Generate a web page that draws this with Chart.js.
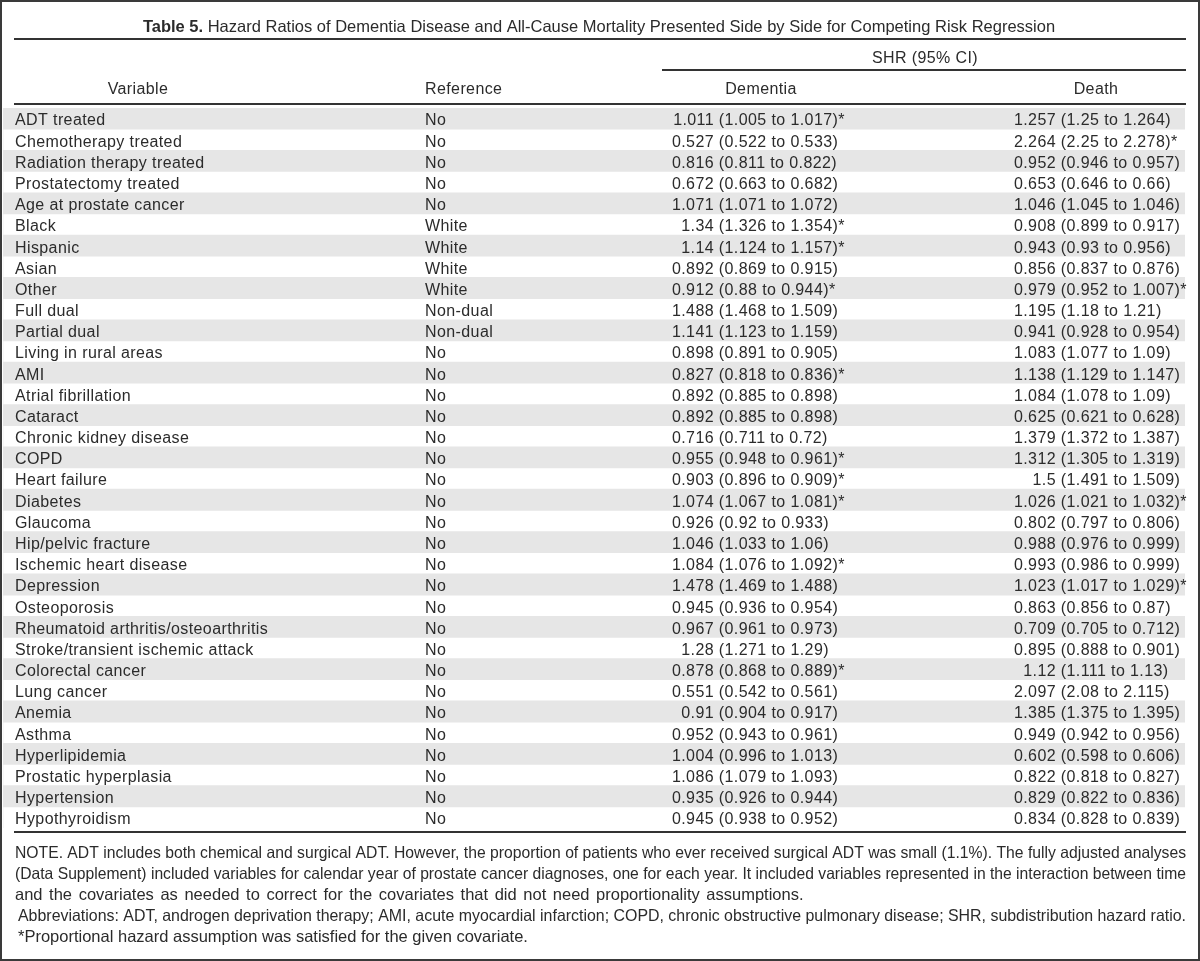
<!DOCTYPE html>
<html>
<head>
<meta charset="utf-8">
<script src="https://cdn.jsdelivr.net/npm/chart.js@4"></script>
<style>
  body { margin: 0; background: #fff; }
  canvas { display: block; }
</style>
</head>
<body>
<canvas id="tableChart" width="1200" height="961"></canvas>
<script>
const variables = ['ADT treated', 'Chemotherapy treated', 'Radiation therapy treated', 'Prostatectomy treated',
    'Age at prostate cancer', 'Black', 'Hispanic', 'Asian', 'Other', 'Full dual', 'Partial dual',
    'Living in rural areas', 'AMI', 'Atrial fibrillation', 'Cataract', 'Chronic kidney disease', 'COPD',
    'Heart failure', 'Diabetes', 'Glaucoma', 'Hip/pelvic fracture', 'Ischemic heart disease', 'Depression',
    'Osteoporosis', 'Rheumatoid arthritis/osteoarthritis', 'Stroke/transient ischemic attack',
    'Colorectal cancer', 'Lung cancer', 'Anemia', 'Asthma', 'Hyperlipidemia', 'Prostatic hyperplasia',
    'Hypertension', 'Hypothyroidism'];

const references = ['No', 'No', 'No', 'No', 'No', 'White', 'White', 'White', 'White', 'Non-dual', 'Non-dual',
    'No', 'No', 'No', 'No', 'No', 'No', 'No', 'No', 'No', 'No', 'No', 'No', 'No', 'No', 'No', 'No', 'No',
    'No', 'No', 'No', 'No', 'No', 'No'];

const dementiaShr = [1.011, 0.527, 0.816, 0.672, 1.071, 1.34, 1.14, 0.892, 0.912, 1.488, 1.141, 0.898, 0.827,
    0.892, 0.892, 0.716, 0.955, 0.903, 1.074, 0.926, 1.046, 1.084, 1.478, 0.945, 0.967, 1.28, 0.878, 0.551,
    0.91, 0.952, 1.004, 1.086, 0.935, 0.945];
const dementiaLow = [1.005, 0.522, 0.811, 0.663, 1.071, 1.326, 1.124, 0.869, 0.88, 1.468, 1.123, 0.891, 0.818,
    0.885, 0.885, 0.711, 0.948, 0.896, 1.067, 0.92, 1.033, 1.076, 1.469, 0.936, 0.961, 1.271, 0.868, 0.542,
    0.904, 0.943, 0.996, 1.079, 0.926, 0.938];
const dementiaHigh = [1.017, 0.533, 0.822, 0.682, 1.072, 1.354, 1.157, 0.915, 0.944, 1.509, 1.159, 0.905, 0.836,
    0.898, 0.898, 0.72, 0.961, 0.909, 1.081, 0.933, 1.06, 1.092, 1.488, 0.954, 0.973, 1.29, 0.889, 0.561,
    0.917, 0.961, 1.013, 1.093, 0.944, 0.952];
// 1 = proportional hazard assumption satisfied (asterisk)
const dementiaPH = [1, 0, 0, 0, 0, 1, 1, 0, 1, 0, 0, 0, 1, 0, 0, 0, 1, 1, 1, 0, 0, 1, 0, 0, 0, 0, 1, 0,
    0, 0, 0, 0, 0, 0];

const deathShr = [1.257, 2.264, 0.952, 0.653, 1.046, 0.908, 0.943, 0.856, 0.979, 1.195, 0.941, 1.083, 1.138,
    1.084, 0.625, 1.379, 1.312, 1.5, 1.026, 0.802, 0.988, 0.993, 1.023, 0.863, 0.709, 0.895, 1.12, 2.097,
    1.385, 0.949, 0.602, 0.822, 0.829, 0.834];
const deathLow = [1.25, 2.25, 0.946, 0.646, 1.045, 0.899, 0.93, 0.837, 0.952, 1.18, 0.928, 1.077, 1.129,
    1.078, 0.621, 1.372, 1.305, 1.491, 1.021, 0.797, 0.976, 0.986, 1.017, 0.856, 0.705, 0.888, 1.111, 2.08,
    1.375, 0.942, 0.598, 0.818, 0.822, 0.828];
const deathHigh = [1.264, 2.278, 0.957, 0.66, 1.046, 0.917, 0.956, 0.876, 1.007, 1.21, 0.954, 1.09, 1.147,
    1.09, 0.628, 1.387, 1.319, 1.509, 1.032, 0.806, 0.999, 0.999, 1.029, 0.87, 0.712, 0.901, 1.13, 2.115,
    1.395, 0.956, 0.606, 0.827, 0.836, 0.839];
const deathPH = [0, 1, 0, 0, 0, 0, 0, 0, 1, 0, 0, 0, 0, 0, 0, 0, 0, 0, 1, 0, 0, 0, 1, 0, 0, 0, 0, 0,
    0, 0, 0, 0, 0, 0];

const columnHeaders = ['Variable', 'Reference', 'Dementia', 'Death'];
const spanHeader = 'SHR (95% CI)';
const titleLabel = 'Table 5.';
const titleText = 'Hazard Ratios of Dementia Disease and All-Cause Mortality Presented Side by Side for Competing Risk Regression';
const notes = [
    'NOTE. ADT includes both chemical and surgical ADT. However, the proportion of patients who ever received surgical ADT was small (1.1%). The fully adjusted analyses',
    '(Data Supplement) included variables for calendar year of prostate cancer diagnoses, one for each year. It included variables represented in the interaction between time',
    'and the covariates as needed to correct for the covariates that did not need proportionality assumptions.',
    'Abbreviations: ADT, androgen deprivation therapy; AMI, acute myocardial infarction; COPD, chronic obstructive pulmonary disease; SHR, subdistribution hazard ratio.',
    '*Proportional hazard assumption was satisfied for the given covariate.'
];

const FONT = "'Liberation Sans', Arial, sans-serif";
const INK = '#2b2b2b';

// fit a line between x0 and x1: squeeze it if too long, spread the words if too short
function drawJustified(ctx, text, x0, x1, y) {
    const avail = x1 - x0;
    const natural = ctx.measureText(text).width;
    if (natural >= avail) {
        ctx.save();
        ctx.translate(x0, y);
        ctx.scale(avail / natural, 1);
        ctx.fillText(text, 0, 0);
        ctx.restore();
        return;
    }
    const words = text.split(' ');
    const widths = words.map(w => ctx.measureText(w).width);
    const total = widths.reduce((a, b) => a + b, 0);
    const gap = (avail - total) / (words.length - 1);
    let x = x0;
    words.forEach((w, i) => {
        ctx.fillText(w, x, y);
        x += widths[i] + gap;
    });
}

function rule(ctx, x0, x1, y, w) {
    ctx.fillStyle = '#333';
    ctx.fillRect(x0, y - w / 2, x1 - x0, w);
}

const tablePlugin = {
    id: 'tableText',
    beforeDraw(chart) {
        const ctx = chart.ctx;
        ctx.save();
        ctx.fillStyle = '#fff';
        ctx.fillRect(0, 0, chart.width, chart.height);
        ctx.restore();
    },
    afterDatasetsDraw(chart) {
        const ctx = chart.ctx;
        const yScale = chart.scales.y;
        ctx.save();
        ctx.fillStyle = INK;
        ctx.textBaseline = 'middle';

        // title
        ctx.font = 'bold 16.5px ' + FONT;
        const wLabel = ctx.measureText(titleLabel + ' ').width;
        ctx.font = '16.5px ' + FONT;
        const wTitle = ctx.measureText(titleText).width;
        let tx = 599 - (wLabel + wTitle) / 2;
        ctx.textAlign = 'left';
        ctx.font = 'bold 16.5px ' + FONT;
        ctx.fillText(titleLabel, tx, 27);
        ctx.font = '16.5px ' + FONT;
        ctx.fillText(titleText, tx + wLabel, 27);

        rule(ctx, 14, 1186, 39, 2);
        rule(ctx, 662, 1186, 70, 2);
        rule(ctx, 14, 1186, 104, 2);
        rule(ctx, 14, 1186, 832, 2);
        ctx.fillStyle = INK;

        // headers
        ctx.font = '16px ' + FONT;
        ctx.letterSpacing = '0.4px';
        ctx.textAlign = 'center';
        ctx.fillText(spanHeader, 925, 59);
        ctx.fillText(columnHeaders[0], 138, 90);
        ctx.fillText(columnHeaders[2], 761, 90);
        ctx.fillText(columnHeaders[3], 1096, 90);
        ctx.textAlign = 'left';
        ctx.fillText(columnHeaders[1], 425, 90);

        // body rows
        variables.forEach((v, i) => {
            const y = yScale.getPixelForValue(i) + 2.5;
            ctx.textAlign = 'left';
            ctx.fillText(v, 15, y);
            ctx.fillText(references[i], 425, y);

            ctx.textAlign = 'right';
            ctx.fillText(String(dementiaShr[i]), 714, y);
            ctx.fillText(String(deathShr[i]), 1056, y);
            ctx.textAlign = 'left';
            ctx.fillText(' (' + dementiaLow[i] + ' to ' + dementiaHigh[i] + ')' + (dementiaPH[i] ? '*' : ''), 714, y);
            ctx.fillText(' (' + deathLow[i] + ' to ' + deathHigh[i] + ')' + (deathPH[i] ? '*' : ''), 1056, y);
        });

        // notes
        ctx.letterSpacing = '0px';
        ctx.font = '16.5px ' + FONT;
        ctx.textAlign = 'left';
        drawJustified(ctx, notes[0], 15, 1186, 853);
        drawJustified(ctx, notes[1], 15, 1186, 874);
        ctx.wordSpacing = '2px';
        ctx.fillText(notes[2], 15, 895);
        ctx.wordSpacing = '0px';
        drawJustified(ctx, notes[3], 18, 1186, 916);
        ctx.fillText(notes[4], 18, 937);

        // frame
        ctx.strokeStyle = '#3a3a3a';
        ctx.lineWidth = 2;
        ctx.strokeRect(1, 1, chart.width - 2, chart.height - 2);
        ctx.restore();
    }
};

const shadeData = variables.map((v, i) => (i % 2 === 0 ? 1 : 0));

new Chart(document.getElementById('tableChart').getContext('2d'), {
    type: 'bar',
    data: {
        labels: variables,
        datasets: [{
            data: shadeData,
            backgroundColor: '#e6e6e6',
            borderWidth: 0,
            barPercentage: 1,
            categoryPercentage: 1
        }]
    },
    options: {
        indexAxis: 'y',
        responsive: false,
        animation: false,
        layout: { padding: { top: 108, bottom: 133, left: 3, right: 15 } },
        plugins: {
            legend: { display: false },
            tooltip: { enabled: false }
        },
        scales: {
            x: { display: false, min: 0, max: 1 },
            y: { display: false }
        }
    },
    plugins: [tablePlugin]
});
</script>
</body>
</html>
